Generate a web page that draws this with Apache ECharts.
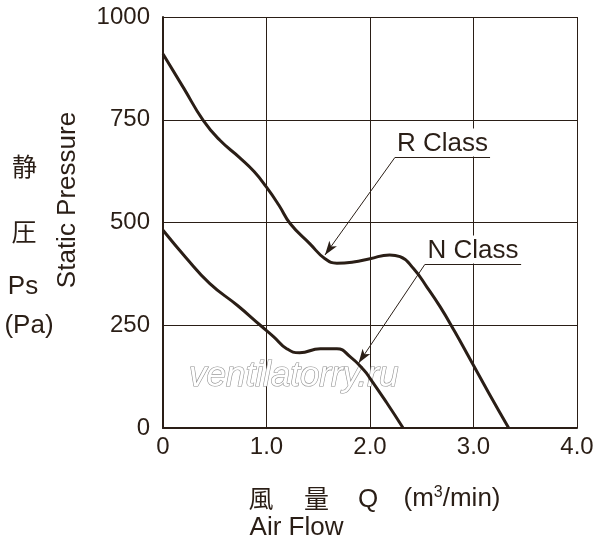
<!DOCTYPE html>
<html>
<head>
<meta charset="UTF-8">
<title>Static Pressure - Air Flow</title>
<script type="text/javascript" src="https://cdn.jsdelivr.net/npm/echarts@6/dist/echarts.min.js"></script>
<style>
  html, body { margin: 0; padding: 0; background: #fff; }
</style>
</head>
<body>
	<div id="box" style="width: 600px; height: 550px;"></div>

	<script type="text/javascript">
		// 曲线数据 (Q m3/min, Ps Pa)
		var rClass = [
			[0, 910], [0.2, 827], [0.39, 748], [0.55, 700], [0.74, 658], [0.88, 624],
			[1.0, 586], [1.12, 542], [1.23, 497], [1.42, 448], [1.565, 412],
			[1.68, 401], [1.84, 404], [2.0, 412], [2.19, 421], [2.29, 417],
			[2.42, 388], [2.55, 343], [2.68, 294], [2.82, 234], [2.97, 166],
			[3.15, 84], [3.34, 0]
		];
		var nClass = [
			[0, 481], [0.22, 415], [0.45, 352], [0.72, 298], [0.94, 250],
			[1.07, 222], [1.195, 193], [1.32, 183], [1.52, 193], [1.68, 193],
			[1.81, 173], [1.94, 141], [2.0, 121], [2.16, 62], [2.32, 0]
		];
		// 引出线 (下划线右端 -> 左端 -> 箭头)
		var rLabel = { text: 'R Class', line: [[3.16, 658], [2.24, 658], [1.565, 421]] };
		var nLabel = { text: 'N Class', line: [[3.46, 398], [2.53, 398], [1.89, 158]] };
		var xTicks = ['0', '1.0', '2.0', '3.0', '4.0'];
		var yTicks = [0, 250, 500, 750, 1000];

		var ink = '#2a1e16';
		var font = 'Liberation Sans, Arial, sans-serif';
		var cjk = 'Noto Sans CJK JP';

		var myChart = echarts.init(document.getElementById('box'));

		function leader(lab) {
			var p = lab.line;
			return [
				[{ coord: p[0], symbol: 'none' }, { coord: p[1], symbol: 'none' }],
				[{ coord: p[1], symbol: 'none' }, { coord: p[2], symbol: 'arrow' }]
			];
		}

		function tag(lab) {
			return {
				symbol: 'circle', symbolSize: 0, silent: true,
				label: {
					show: true, position: 'top', distance: 1, color: ink, fontSize: 26, fontFamily: font,
					backgroundColor: '#fff', padding: [2, 3, 0, 3], formatter: lab.text
				},
				data: [{ coord: [(lab.line[0][0] + lab.line[1][0]) / 2, lab.line[0][1]] }]
			};
		}

		function txt(s, x, y, size, fam, extra) {
			var o = { type: 'text', x: x, y: y, style: { text: s, fontSize: size, fontFamily: fam, fill: ink, align: 'center', verticalAlign: 'middle' } };
			if (extra) { for (var k in extra) o[k] = extra[k]; }
			return o;
		}

		myChart.setOption({
			animation: false,
			grid: { left: 163, right: 23, top: 17, bottom: 122 },
			xAxis: {
				type: 'value', min: 0, max: 4, interval: 1,
				axisLine: { lineStyle: { color: ink, width: 2 } },
				axisTick: { show: false },
				splitLine: { show: true, lineStyle: { color: ink, width: 1 } },
				axisLabel: {
					color: ink, fontSize: 24, fontFamily: font, margin: 7,
					formatter: function (v) { return xTicks[Math.round(v)]; }
				}
			},
			yAxis: {
				type: 'value', min: 0, max: 1000, interval: 250,
				axisLine: { show: true, lineStyle: { color: ink, width: 2 } },
				axisTick: { show: false },
				splitLine: { show: true, lineStyle: { color: ink, width: 1 } },
				axisLabel: {
					color: ink, fontSize: 24, fontFamily: font, margin: 13,
					formatter: function (v) { return yTicks.indexOf(v) >= 0 ? String(v) : ''; }
				}
			},
			graphic: [
				{ type: 'text', x: 189, y: 376, z: 1, style: { text: 'ventilatorry.ru', fontSize: 35, fontStyle: 'italic', fontFamily: font, fill: '#fff', stroke: '#8f8f8f', lineWidth: 1.2, verticalAlign: 'middle' } },
				txt('静', 24.5, 166, 25, cjk),
				txt('圧', 24, 231, 25, cjk),
				txt('Ps', 23, 287, 26, font),
				txt('(Pa)', 29, 326, 26, font),
				txt('Static Pressure', 68, 200, 26, font, { rotation: Math.PI / 2 }),
				txt('風', 261, 498, 25, cjk),
				txt('量', 316.5, 498, 25, cjk),
				txt('Q', 368, 499.5, 26, font),
				{ type: 'text', x: 452, y: 499, style: { align: 'center', verticalAlign: 'middle', rich: { a: { fontSize: 26, fontFamily: font, fill: ink }, s: { fontSize: 16, fontFamily: font, fill: ink, padding: [0, 0, 12, 0] } }, text: '{a|(m}{s|3}{a|/min)}' } },
				txt('Air Flow', 296.5, 528, 26, font)
			],
			series: [
				{
					name: 'R Class', type: 'line', data: rClass, smooth: 0.5, showSymbol: false, z: 5,
					lineStyle: { color: ink, width: 3 },
					markLine: {
						silent: true, symbolSize: [7, 14], animation: false,
						lineStyle: { color: ink, width: 1, type: 'solid' },
						label: { show: false },
						data: leader(rLabel)
					},
					markPoint: tag(rLabel)
				},
				{
					name: 'N Class', type: 'line', data: nClass, smooth: 0.5, showSymbol: false, z: 5,
					lineStyle: { color: ink, width: 3 },
					markLine: {
						silent: true, symbolSize: [7, 14], animation: false,
						lineStyle: { color: ink, width: 1, type: 'solid' },
						label: { show: false },
						data: leader(nLabel)
					},
					markPoint: tag(nLabel)
				}
			]
		});
	</script>
</body>
</html>
